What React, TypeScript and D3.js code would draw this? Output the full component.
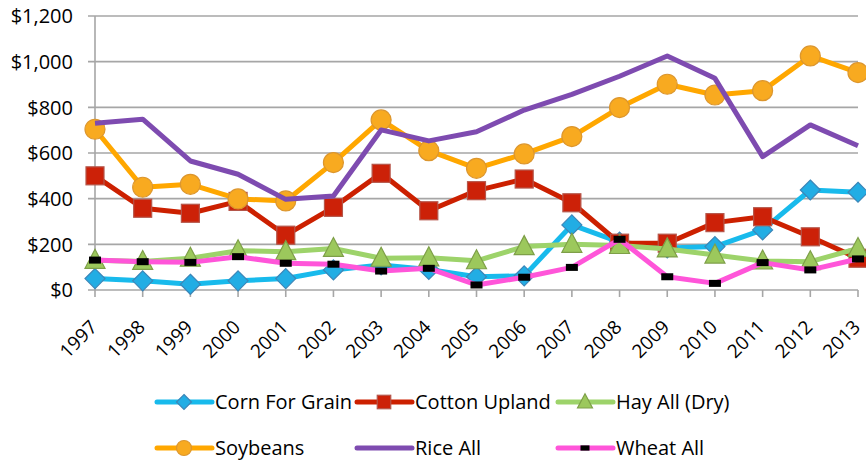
import React from "react";
import * as d3 from "d3";

const years = [
  "1997", "1998", "1999", "2000", "2001", "2002", "2003", "2004", "2005",
  "2006", "2007", "2008", "2009", "2010", "2011", "2012", "2013",
];

const corn = [50, 40, 25, 40, 50, 88, 110, 90, 58, 62, 285, 210, 184, 190, 263, 438, 428];
const cotton = [500, 358, 336, 388, 240, 362, 511, 347, 435, 486, 382, 205, 205, 295, 321, 233, 139];
const hay = [130, 125, 139, 172, 168, 182, 139, 141, 128, 190, 200, 195, 180, 153, 127, 124, 182];
const soybeans = [704, 450, 463, 399, 390, 558, 745, 610, 533, 596, 672, 799, 901, 854, 873, 1025, 952];
const rice = [730, 748, 565, 507, 397, 412, 701, 653, 693, 788, 857, 936, 1025, 927, 584, 723, 632];
const wheat = [131, 124, 121, 146, 117, 113, 83, 95, 22, 56, 99, 222, 58, 29, 120, 88, 136];

const yTicks = [0, 200, 400, 600, 800, 1000, 1200];

type Marker = "diamond" | "square" | "triangle" | "circle" | "none" | "dash";

const series: { name: string; values: number[]; color: string; marker: Marker; fill: string; edge: string }[] = [
  { name: "Corn For Grain", values: corn, color: "#18BAEC", marker: "diamond", fill: "#22ADE4", edge: "#3C86B8" },
  { name: "Cotton Upland", values: cotton, color: "#CC2000", marker: "square", fill: "#CC2108", edge: "#B5564A" },
  { name: "Hay All (Dry)", values: hay, color: "#9DD36A", marker: "triangle", fill: "#9CC85C", edge: "#7E9F48" },
  { name: "Soybeans", values: soybeans, color: "#FFA700", marker: "circle", fill: "#F8AA20", edge: "#DC962E" },
  { name: "Rice All", values: rice, color: "#7E4BB0", marker: "none", fill: "none", edge: "none" },
  { name: "Wheat All", values: wheat, color: "#FF55D9", marker: "dash", fill: "#000000", edge: "none" },
];

const FONT = "'Open Sans', sans-serif";

function MarkerShape({ kind, x, y, fill, edge, k = 1 }: { kind: Marker; x: number; y: number; fill: string; edge: string; k?: number }) {
  if (kind === "diamond") {
    const s = 10 * k;
    return <path d={`M${x},${y - s}L${x + s},${y}L${x},${y + s}L${x - s},${y}Z`} fill={fill} stroke={edge} strokeWidth={1.2} />;
  }
  if (kind === "square") {
    const s = 9 * k;
    return <rect x={x - s} y={y - s} width={2 * s} height={2 * s} fill={fill} stroke={edge} strokeWidth={1.2} />;
  }
  if (kind === "triangle") {
    return <path d={`M${x},${y - 11 * k}L${x + 10 * k},${y + 8 * k}L${x - 10 * k},${y + 8 * k}Z`} fill={fill} stroke={edge} strokeWidth={1.2} />;
  }
  if (kind === "circle") {
    return <circle cx={x} cy={y} r={10 * k} fill={fill} stroke={edge} strokeWidth={1.2} />;
  }
  if (kind === "dash") {
    return <rect x={x - 6 * k} y={y - 3.5 * k} width={12 * k} height={7 * k} fill={fill} />;
  }
  return null;
}

export default function App() {
  const width = 866;
  const height = 461;

  const x = d3.scalePoint<string>().domain(years).range([95, 858]);
  const y = d3.scaleLinear().domain([0, 1200]).range([290, 16]);

  const line = d3
    .line<number>()
    .x((d, i) => x(years[i]) as number)
    .y((d) => y(d));

  const legendCols = [157, 357, 558];
  const legendRows = [402, 448];

  return (
    <svg width={width} height={height} style={{ position: "absolute", left: 0, top: 0, background: "#fff" }}>
      {/* grid */}
      {yTicks.map((t) => (
        <line key={t} x1={88} x2={858} y1={y(t)} y2={y(t)} stroke="#A6A6A6" strokeWidth={1.6} />
      ))}
      <line x1={95} x2={95} y1={y(1200)} y2={y(0)} stroke="#A6A6A6" strokeWidth={1.6} />
      {years.map((yr) => (
        <line key={yr} x1={x(yr)} x2={x(yr)} y1={290} y2={297} stroke="#A6A6A6" strokeWidth={1.6} />
      ))}

      {/* y labels */}
      {yTicks.map((t) => (
        <text key={t} x={73} y={y(t)} dy="0.36em" textAnchor="end" fontFamily={FONT} fontSize={20} fill="#000">
          {d3.format("$,")(t)}
        </text>
      ))}

      {/* x labels */}
      {years.map((yr) => (
        <text
          key={yr}
          transform={`translate(${(x(yr) as number) - 6},${319}) rotate(-45)`}
          textAnchor="end"
          dy="0.7em"
          fontFamily={FONT}
          fontSize={19}
          fill="#000"
        >
          {yr}
        </text>
      ))}

      {/* series */}
      {series.map((s) => (
        <g key={s.name}>
          <path d={line(s.values) || ""} fill="none" stroke={s.color} strokeWidth={5} strokeLinejoin="round" />
          {s.values.map((v, i) => (
            <MarkerShape key={i} kind={s.marker} x={x(years[i]) as number} y={y(v)} fill={s.fill} edge={s.edge} />
          ))}
        </g>
      ))}

      {/* legend */}
      {series.map((s, i) => {
        const lx = legendCols[i % 3];
        const ly = legendRows[Math.floor(i / 3)];
        return (
          <g key={s.name}>
            <line x1={lx} x2={lx + 55} y1={ly} y2={ly} stroke={s.color} strokeWidth={5} strokeLinecap="round" />
            <MarkerShape kind={s.marker} x={lx + 27} y={ly} fill={s.fill} edge={s.edge} k={0.75} />
            <text x={lx + 58} y={ly} dy="0.36em" fontFamily={FONT} fontSize={20} fill="#000">
              {s.name}
            </text>
          </g>
        );
      })}
    </svg>
  );
}
